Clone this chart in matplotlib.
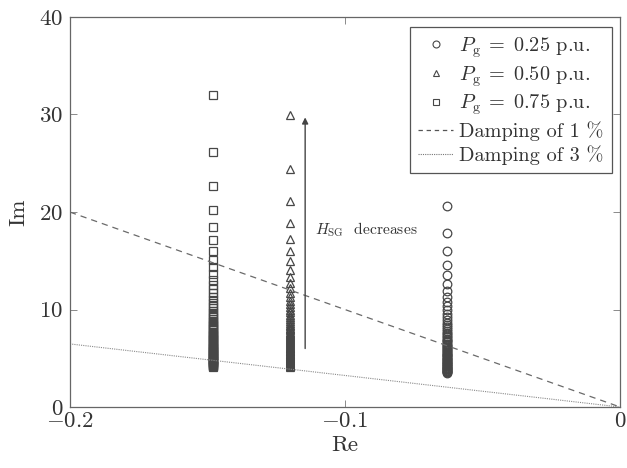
import matplotlib
matplotlib.use("Agg")
import matplotlib.pyplot as plt
from matplotlib.lines import Line2D

plt.rcParams['font.family'] = 'serif'
plt.rcParams['font.serif'] = ['cmr10', 'DejaVu Serif']
plt.rcParams['mathtext.fontset'] = 'cm'
plt.rcParams['axes.unicode_minus'] = False

# ---- data ----
re_p025 = -0.063
re_p050 = -0.12
re_p075 = -0.148

im_p025 = [20.61, 17.85, 15.97, 14.57, 13.49, 12.62, 11.90, 11.29, 10.76, 10.31,
           9.90, 9.54, 9.22, 8.93, 8.66, 8.41, 8.19, 7.98, 7.79, 7.61, 7.44, 7.29,
           7.14, 7.00, 6.87, 6.74, 6.62, 6.50, 6.38, 6.27, 6.16, 6.05, 5.95, 5.85,
           5.75, 5.65, 5.56, 5.47, 5.38, 5.29, 5.20, 5.12, 5.04, 4.96, 4.88, 4.80,
           4.72, 4.65, 4.58, 4.51, 4.44, 4.37, 4.30, 4.23, 4.16, 4.10, 4.04, 3.98,
           3.92, 3.86, 3.80, 3.74, 3.68, 3.62, 3.56, 3.50]

im_p050 = [29.91, 24.42, 21.15, 18.92, 17.27, 15.99, 14.96, 14.10, 13.38, 12.75,
           12.21, 11.73, 11.31, 10.92, 10.58, 10.26, 9.97, 9.70, 9.46, 9.23, 9.02,
           8.82, 8.63, 8.46, 8.30, 8.14, 7.99, 7.85, 7.72, 7.60, 7.48, 7.36, 7.25,
           7.14, 7.03, 6.93, 6.83, 6.73, 6.63, 6.54, 6.45, 6.36, 6.27, 6.19, 6.10,
           6.02, 5.94, 5.86, 5.78, 5.70, 5.62, 5.55, 5.47, 5.40, 5.33, 5.26, 5.19,
           5.12, 5.05, 4.98, 4.92, 4.85, 4.79, 4.72, 4.66, 4.60, 4.54, 4.48, 4.42,
           4.36, 4.30, 4.24, 4.18, 4.13]

im_p075 = [32.00, 26.12, 22.63, 20.24, 18.47, 17.10, 16.00, 15.08, 14.31, 13.64,
           13.06, 12.55, 12.09, 11.68, 11.31, 10.97, 10.67, 10.38, 10.12, 9.87,
           9.65, 9.44, 9.24, 9.05, 8.87, 8.71, 8.55, 8.40, 8.26, 8.12, 7.98, 7.85,
           7.72, 7.60, 7.48, 7.36, 7.25, 7.14, 7.03, 6.93, 6.83, 6.73, 6.63, 6.54,
           6.45, 6.36, 6.27, 6.19, 6.10, 6.02, 5.94, 5.86, 5.78, 5.70, 5.62, 5.55,
           5.47, 5.40, 5.33, 5.26, 5.19, 5.12, 5.05, 4.98, 4.92, 4.85, 4.79, 4.72,
           4.66, 4.60, 4.54, 4.48, 4.42, 4.36, 4.30, 4.24, 4.18, 4.13]

damp_re = [-0.2, 0.0]
damp_1pct = [19.99, 0.0]
damp_3pct = [6.47, 0.0]

arrow_x = -0.1145
arrow_y = [6.0, 29.7]

xticks = [-0.2, -0.1, 0.0]
xticklabels = [r'$-0.2$', r'$-0.1$', r'$0$']
yticks = [0, 10, 20, 30, 40]
yticklabels = [r'$0$', r'$10$', r'$20$', r'$30$', r'$40$']

labels = [r'$P_{\mathrm{g}}\;=\;0.25$ p.u.', r'$P_{\mathrm{g}}\;=\;0.50$ p.u.',
          r'$P_{\mathrm{g}}\;=\;0.75$ p.u.', 'Damping of 1 %', 'Damping of 3 %']

# ---- figure ----
fig = plt.figure(figsize=(6.27, 4.68), dpi=100)
ax = fig.add_axes([0.1116, 0.1303, 0.8774, 0.8334])

mc = '#474747'
ax.plot([re_p025] * len(im_p025), im_p025, linestyle='none', marker='o',
        markersize=6.2, markerfacecolor='none', markeredgecolor=mc, markeredgewidth=0.9)
ax.plot([re_p050] * len(im_p050), im_p050, linestyle='none', marker='^',
        markersize=6, markerfacecolor='none', markeredgecolor=mc, markeredgewidth=0.9)
ax.plot([re_p075] * len(im_p075), im_p075, linestyle='none', marker='s',
        markersize=6.3, markerfacecolor='none', markeredgecolor=mc, markeredgewidth=0.9)
ax.plot(damp_re, damp_1pct, linestyle=(0, (5, 4)), color='#6a6a6a', linewidth=0.9)
ax.plot(damp_re, damp_3pct, linestyle=(0, (1, 1)), color='#8a8a8a', linewidth=0.8)

ax.annotate('', xy=(arrow_x, arrow_y[1]), xytext=(arrow_x, arrow_y[0]),
            arrowprops=dict(arrowstyle='-|>', color='#444444', lw=1.0,
                            mutation_scale=9, shrinkA=0, shrinkB=0))
ax.text(-0.111, 18.2, r'$H_{\mathrm{SG}}$  decreases', fontsize=11.2,
        color='#333333', va='center', ha='left')

ax.set_xlim(-0.2, 0.0)
ax.set_ylim(0, 40)
ax.set_xticks(xticks)
ax.set_xticklabels(xticklabels)
ax.set_yticks(yticks)
ax.set_yticklabels(yticklabels)
ax.tick_params(direction='in', top=True, right=True, length=5, width=0.6,
               colors='#777777', labelcolor='#333333', labelsize=16.5)
ax.tick_params(axis='y', pad=5)
for s in ax.spines.values():
    s.set_color('#666666')
    s.set_linewidth(0.9)
ax.set_xlabel('Re', fontsize=16.5, color='#333333', labelpad=3)
ax.set_ylabel('Im', fontsize=16.5, color='#333333', labelpad=8)

handles = [
    Line2D([], [], linestyle='none', marker='o', markersize=5, markerfacecolor='none',
           markeredgecolor=mc, markeredgewidth=0.8),
    Line2D([], [], linestyle='none', marker='^', markersize=5, markerfacecolor='none',
           markeredgecolor=mc, markeredgewidth=0.8),
    Line2D([], [], linestyle='none', marker='s', markersize=5, markerfacecolor='none',
           markeredgecolor=mc, markeredgewidth=0.8),
    Line2D([], [], linestyle=(0, (3.5, 3)), color='#555555', linewidth=0.9),
    Line2D([], [], linestyle=(0, (1, 1)), color='#777777', linewidth=0.8),
]
leg = ax.legend(handles, labels, loc='upper right', fontsize=14.6, frameon=True,
                fancybox=False, edgecolor='#555555', framealpha=1,
                handlelength=1.75, handletextpad=0.3, borderpad=0.4,
                labelspacing=0.2, borderaxespad=0.0,
                bbox_to_anchor=(0.985, 0.974))
leg.get_frame().set_linewidth(0.9)
for t in leg.get_texts():
    t.set_color('#333333')

fig.savefig('out.png', dpi=100)
